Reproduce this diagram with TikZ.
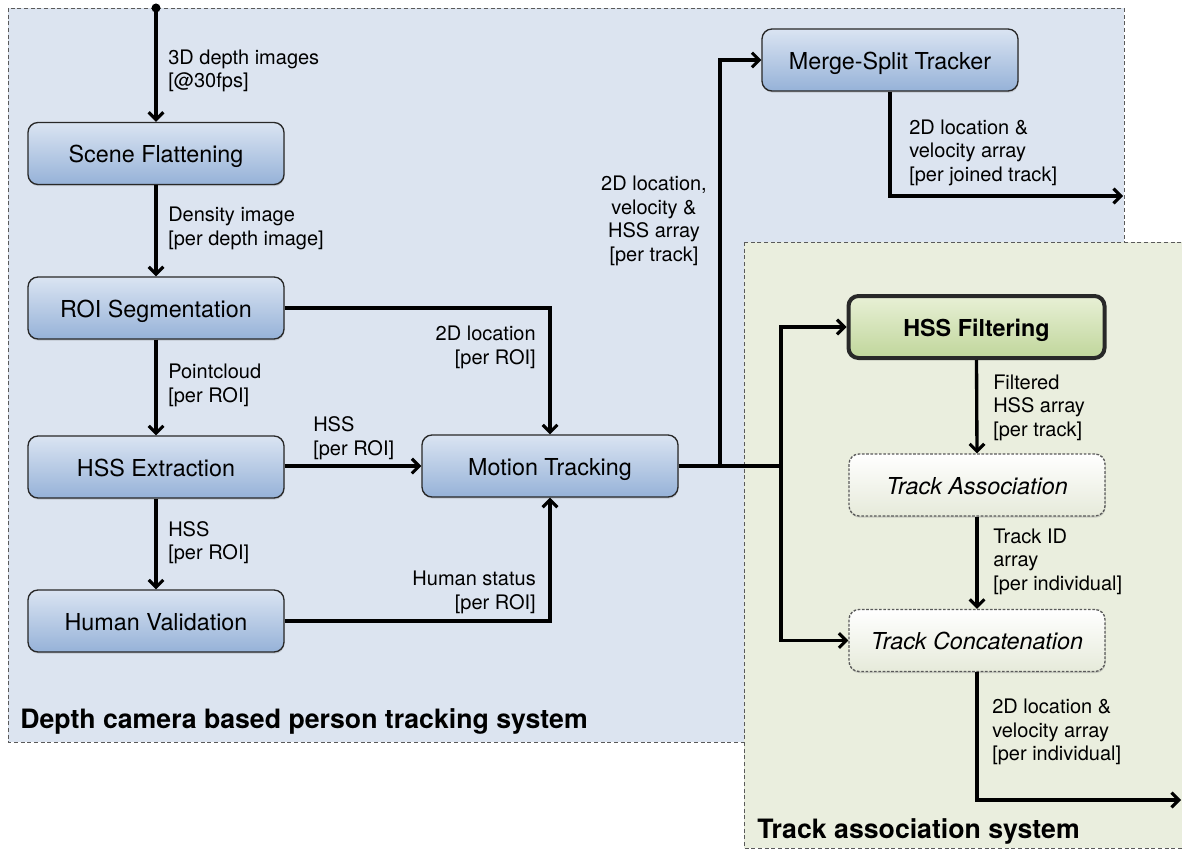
\documentclass[tikz,border=0pt]{standalone}
\usepackage{fontspec}
\setmainfont{TeX Gyre Heros}
\usetikzlibrary{arrows.meta,shadows}
\definecolor{bluebg}{RGB}{220,228,240}
\definecolor{greenbg}{RGB}{234,238,222}
\definecolor{boxtop}{RGB}{218,228,242}
\definecolor{boxbot}{RGB}{150,178,216}
\definecolor{gtop}{RGB}{232,240,214}
\definecolor{gbot}{RGB}{192,214,155}
\definecolor{wbot}{RGB}{230,234,218}
\definecolor{edge}{RGB}{40,40,40}
\definecolor{dashgray}{RGB}{90,90,90}
\tikzset{
  procbox/.style={draw=edge, line width=1pt, rounded corners=7.5pt,
    top color=boxtop, bottom color=boxbot, minimum width=192pt, minimum height=46.5pt,
    inner sep=0pt, text height=17.5pt, text depth=3.5pt, font=\fontsize{17.5}{21}\selectfont,
    drop shadow={shadow xshift=0.4pt, shadow yshift=-1.2pt, opacity=0.3}},
  filtbox/.style={procbox, line width=3pt, top color=gtop, bottom color=gbot,
    font=\fontsize{17.5}{21}\selectfont\bfseries},
  softbox/.style={procbox, dashed, dash pattern=on 2pt off 1.2pt, draw=dashgray,
    top color=white, bottom color=wbot, font=\fontsize{17.5}{21}\selectfont\itshape},
  lbl/.style={inner sep=0pt, font=\fontsize{15}{17.6}\selectfont, align=left},
  title/.style={inner sep=0pt, font=\fontsize{20}{24}\selectfont\bfseries},
  conn/.style={line width=2.5pt, -{Straight Barb[length=5.5pt,width=11pt,line width=2.3pt]}},
  plain/.style={line width=2.5pt},
  region/.style={dashed, dash pattern=on 3pt off 2pt, draw=dashgray, line width=0.6pt}
}
\begin{document}
\begin{tikzpicture}[x=0.75pt,y=-0.75pt]
\useasboundingbox (0,0) rectangle (1182,849);
% system regions
\draw[region, fill=bluebg] (8,8) rectangle (1124,742);
\draw[region, fill=greenbg] (744,242) rectangle (1200,848);
\node[title, anchor=west] (t1) at (20,721) {Depth camera based person tracking system};
\node[title, anchor=west] (t2) at (757,831) {Track association system};

% process nodes
\node[procbox] (scene) at (156,153.5) {Scene Flattening};
\node[procbox] (roi) at (156,308) {ROI Segmentation};
\node[procbox] (hssx) at (156,467) {HSS Extraction};
\node[procbox] (human) at (156,621) {Human Validation};
\node[procbox] (motion) at (550,466) {Motion Tracking};
\node[procbox] (merge) at (890,60) {Merge-Split Tracker};
\node[filtbox] (filt) at (976.5,327) {HSS Filtering};
\node[softbox] (assoc) at (977,485) {Track Association};
\node[softbox] (concat) at (977,640.5) {Track Concatenation};

% coordinates
\coordinate (src) at (156,8);
\coordinate (j1) at (720,466);
\coordinate (j2) at (781,466);
\coordinate (out1) at (1123,196);
\coordinate (out2) at (1181,800);

% connectors
\fill (src) circle (4.5);
\draw[conn] (src) -- (scene.north);
\draw[conn] (scene.south) -- (roi.north);
\draw[conn] (roi.south) -- (hssx.north);
\draw[conn] (hssx.south) -- (human.north);
\draw[conn] (roi.east) -| (motion.north);
\draw[conn] (hssx.east |- motion.west) -- (motion.west);
\draw[conn] (human.east) -| (motion.south);
\draw[plain] (motion.east) -- (j2);
\draw[conn] (j1) |- (merge.west);
\draw[conn] (j2) |- (filt.west);
\draw[conn] (j2) |- (concat.west);
\draw[conn] (filt.south) -- (assoc.north);
\draw[conn] (assoc.south) -- (concat.north);
\draw[conn] (merge.south) |- (out1);
\draw[conn] (concat.south) |- (out2);

% labels
\node[lbl, anchor=west] (l1) at (168,71) {3D depth images\\{[@30fps]}};
\node[lbl, anchor=west] (l2) at (168,228.5) {Density image\\{[per depth image]}};
\node[lbl, anchor=west] (l3) at (168,385.5) {Pointcloud\\{[per ROI]}};
\node[lbl, anchor=west] (l4) at (168,542.5) {HSS\\{[per ROI]}};
\node[lbl, anchor=west] (l5) at (313,438) {HSS\\{[per ROI]}};
\node[lbl, anchor=east, align=right] (l6) at (536,347.5) {2D location\\{[per ROI]}};
\node[lbl, anchor=east, align=right] (l7) at (536,592.5) {Human status\\{[per ROI]}};
\node[lbl, align=center] (l8) at (654,221) {2D location,\\velocity \&\\HSS array\\{[per track]}};
\node[lbl, anchor=west] (l9) at (909,152.5) {2D location \&\\velocity array\\{[per joined track]}};
\node[lbl, anchor=west] (l10) at (993,407.5) {Filtered\\HSS array\\{[per track]}};
\node[lbl, anchor=west] (l11) at (993,561.5) {Track ID\\array\\{[per individual]}};
\node[lbl, anchor=west] (l12) at (992,732) {2D location \&\\velocity array\\{[per individual]}};
\end{tikzpicture}
\end{document}
